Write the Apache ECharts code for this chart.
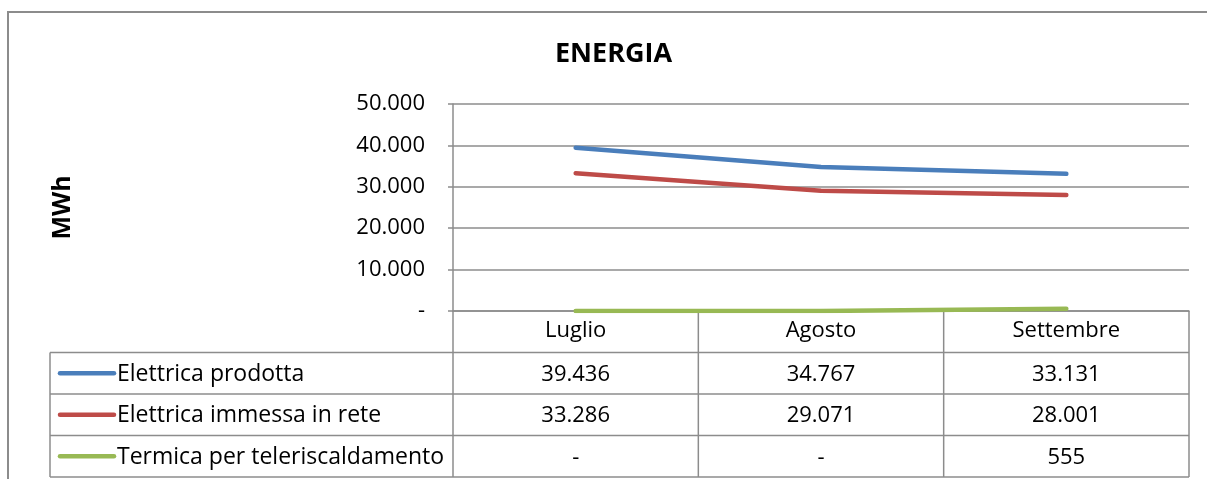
<!DOCTYPE html>
<html>
<head>
<meta charset="utf-8">
<script src="https://cdn.jsdelivr.net/npm/echarts@6/dist/echarts.min.js"></script>
<style>
  html, body { margin: 0; padding: 0; background: #fff; }
  #chart { width: 1207px; height: 479px; }
</style>
</head>
<body>
<div id="chart"></div>
<script>
const months = ['Luglio', 'Agosto', 'Settembre'];
const seriesNames = ['Elettrica prodotta', 'Elettrica immessa in rete', 'Termica per teleriscaldamento'];
const elettricaProdotta = [39436, 34767, 33131];
const elettricaImmessa = [33286, 29071, 28001];
const termica = [0, 0, 555];
const colors = ['#4a7ebb', '#be4b48', '#98b954'];

const values = [elettricaProdotta, elettricaImmessa, termica];
const FONT = '"Open Sans", sans-serif';
const FS = 22;
const GRIDC = '#8c8c8c';

// 39436 -> "39.436", 0 -> "-"
function fmt(v) {
  if (v === 0) return '-';
  return String(v).replace(/\B(?=(\d{3})+(?!\d))/g, '.');
}

// plot area in pixels
const gLeft = 453, gRight = 1189, gTop = 104, gBottom = 311;
const rowH = 41.5;
const tableLeft = 50;
const colW = (gRight - gLeft) / months.length;

const chart = echarts.init(document.getElementById('chart'));

// data table drawn underneath the axis
const g = [];
// outer chart frame
g.push({ type: 'rect', shape: { x: 8, y: 12, width: 1220, height: 500 },
  style: { fill: null, stroke: GRIDC, lineWidth: 2 }, silent: true });
// column dividers
for (let i = 0; i <= months.length; i++) {
  const x = gLeft + i * colW;
  g.push({ type: 'line', shape: { x1: x, y1: gBottom, x2: x, y2: gBottom + rowH * 4 },
    style: { stroke: GRIDC, lineWidth: 1.5 }, silent: true });
}
// row borders
for (let r = 1; r <= seriesNames.length + 1; r++) {
  const y = gBottom + r * rowH;
  g.push({ type: 'line', shape: { x1: tableLeft, y1: y, x2: gRight, y2: y },
    style: { stroke: GRIDC, lineWidth: 1.5 }, silent: true });
}
g.push({ type: 'line', shape: { x1: tableLeft, y1: gBottom + rowH, x2: tableLeft, y2: gBottom + rowH * 4 },
  style: { stroke: GRIDC, lineWidth: 1.5 }, silent: true });

seriesNames.forEach((name, r) => {
  const cy = gBottom + (r + 1.5) * rowH;
  g.push({ type: 'line', shape: { x1: 60, y1: cy, x2: 114, y2: cy },
    style: { stroke: colors[r], lineWidth: 4.5, lineCap: 'round' }, silent: true });
  g.push({ type: 'text', x: 117, y: cy + 1,
    style: { text: name, font: '23px ' + FONT, fill: '#000', verticalAlign: 'middle', align: 'left' }, silent: true });
  values[r].forEach((v, c) => {
    g.push({ type: 'text', x: gLeft + (c + 0.5) * colW, y: cy + 1,
      style: { text: fmt(v), font: FS + 'px ' + FONT, fill: '#000', verticalAlign: 'middle', align: 'center' }, silent: true });
  });
});

chart.setOption({
  animation: false,
  backgroundColor: '#fff',
  title: {
    text: 'ENERGIA', left: 550, top: 36,
    textStyle: { fontFamily: FONT, fontSize: 27, fontWeight: 'bold', color: '#000' }
  },
  grid: { left: gLeft, top: gTop, right: 1207 - gRight, bottom: 479 - gBottom },
  xAxis: {
    type: 'category', data: months, boundaryGap: true,
    axisLine: { lineStyle: { color: GRIDC, width: 1.5 } },
    axisTick: { show: false },
    axisLabel: { margin: 9, fontFamily: FONT, fontSize: FS, color: '#000' }
  },
  yAxis: {
    type: 'value', min: 0, max: 50000, interval: 10000,
    name: 'MWh', nameLocation: 'middle', nameRotate: 90, nameGap: 378,
    nameTextStyle: { fontFamily: FONT, fontSize: 25, fontWeight: 'bold', color: '#000' },
    axisLine: { show: true, lineStyle: { color: GRIDC, width: 1.5 } },
    axisTick: { show: true, length: 5, lineStyle: { color: GRIDC, width: 1.5 } },
    axisLabel: { margin: 28, fontFamily: FONT, fontSize: 22, color: '#000', formatter: fmt },
    splitLine: { lineStyle: { color: GRIDC, width: 1.5 } }
  },
  series: seriesNames.map((name, i) => ({
    name: name, type: 'line', data: values[i], symbol: 'none',
    lineStyle: { color: colors[i], width: 4.5, cap: 'round', join: 'round' },
    itemStyle: { color: colors[i] }
  })),
  graphic: g
});
</script>
</body>
</html>
